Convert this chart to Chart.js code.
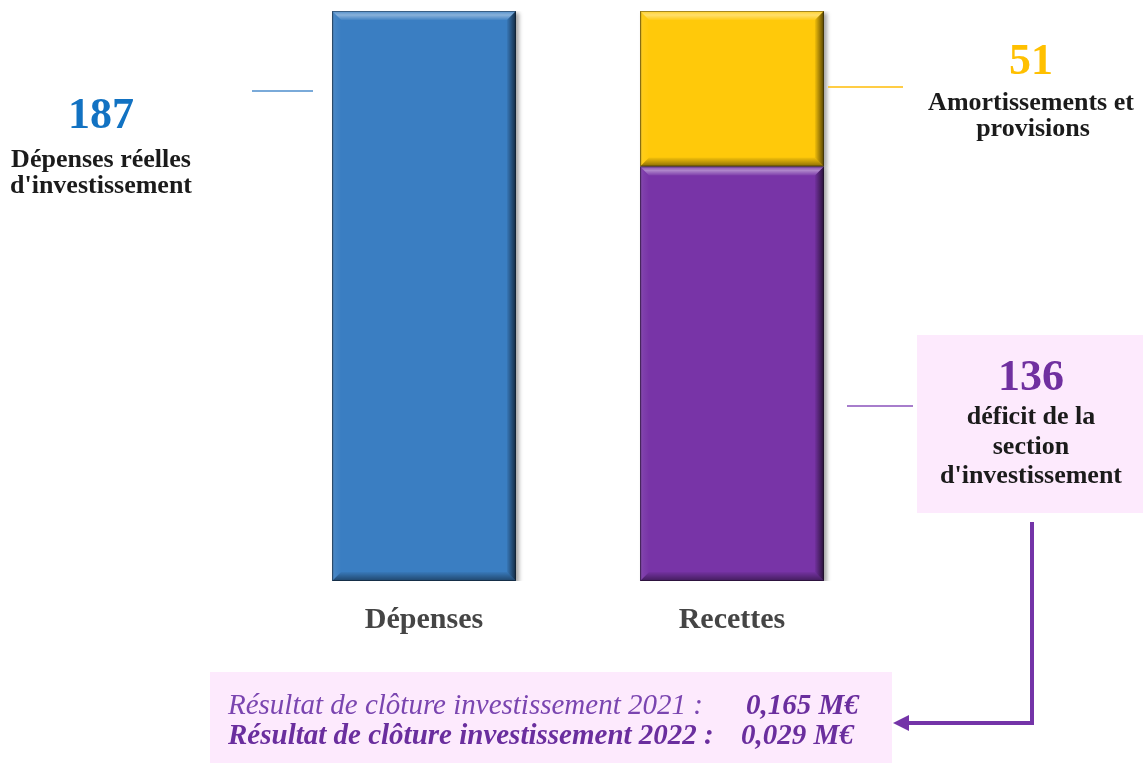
<!DOCTYPE html>
<html lang="fr">
<head>
<meta charset="utf-8">
<title>Section d'investissement</title>
<script src="https://cdn.jsdelivr.net/npm/chart.js@4.4.1/dist/chart.umd.min.js"></script>
<style>
  html, body { margin: 0; padding: 0; background: #fff; }
  #wrap { width: 1147px; height: 765px; }
</style>
</head>
<body>
<div id="wrap"><canvas id="invest-chart" width="1147" height="765"></canvas></div>
<script>
// montants en milliers d'euros
const categories = ['Dépenses', 'Recettes'];
const depensesReelles = [187, null];
const deficitSection = [null, 136];
const amortissements = [null, 51];

const resultatLibelles = ['Résultat de clôture investissement 2021 :', 'Résultat de clôture investissement 2022 :'];
const resultatMontants = ['0,165 M€', '0,029 M€'];

const SERIF = '"Liberation Serif", "Times New Roman", serif';
const BLEU = '#3A7EC2';
const JAUNE = '#FFC90A';
const VIOLET = '#7834A7';

const totaux = categories.map((_, i) =>
  (depensesReelles[i] || 0) + (deficitSection[i] || 0) + (amortissements[i] || 0));

function poly(ctx, pts, fill) {
  ctx.beginPath();
  ctx.moveTo(pts[0][0], pts[0][1]);
  for (let k = 1; k < pts.length; k++) ctx.lineTo(pts[k][0], pts[k][1]);
  ctx.closePath();
  ctx.fillStyle = fill;
  ctx.fill();
}

// relief biseauté sur chaque rectangle
function drawBevel(ctx, l, t, r, b, s) {
  let g = ctx.createLinearGradient(0, t, 0, t + s);
  g.addColorStop(0, 'rgba(255,255,255,0.12)');
  g.addColorStop(0.45, 'rgba(255,255,255,0.40)');
  g.addColorStop(1, 'rgba(255,255,255,0.05)');
  poly(ctx, [[l, t], [r, t], [r - s, t + s], [l + s, t + s]], g);

  g = ctx.createLinearGradient(r - s, 0, r, 0);
  g.addColorStop(0, 'rgba(0,0,0,0.05)');
  g.addColorStop(1, 'rgba(0,0,0,0.66)');
  poly(ctx, [[r, t], [r, b], [r - s, b - s], [r - s, t + s]], g);

  g = ctx.createLinearGradient(0, b - s, 0, b);
  g.addColorStop(0, 'rgba(0,0,0,0.04)');
  g.addColorStop(1, 'rgba(0,0,0,0.45)');
  poly(ctx, [[l, b], [r, b], [r - s, b - s], [l + s, b - s]], g);

  g = ctx.createLinearGradient(l, 0, l + s, 0);
  g.addColorStop(0, 'rgba(0,0,0,0.30)');
  g.addColorStop(0.3, 'rgba(255,255,255,0.06)');
  g.addColorStop(1, 'rgba(255,255,255,0)');
  poly(ctx, [[l, t], [l + s, t + s], [l + s, b - s], [l, b]], g);

  ctx.strokeStyle = 'rgba(0,0,0,0.35)';
  ctx.lineWidth = 1;
  ctx.strokeRect(l + 0.5, t + 0.5, r - l - 1, b - t - 1);
}

const bevelPlugin = {
  id: 'bevel',
  beforeDatasetsDraw(chart) {
    const ctx = chart.ctx;
    ctx.save();
    ctx.shadowColor = 'rgba(0,0,0,0.35)';
    ctx.shadowBlur = 4;
    ctx.shadowOffsetX = 3;
    ctx.shadowOffsetY = 2;
  },
  afterDatasetsDraw(chart) {
    const ctx = chart.ctx;
    ctx.restore();
    chart.data.datasets.forEach((ds, i) => {
      chart.getDatasetMeta(i).data.forEach((bar, j) => {
        if (ds.data[j] == null) return;
        const p = bar.getProps(['x', 'y', 'base', 'width'], true);
        const l = p.x - p.width / 2, r = p.x + p.width / 2;
        const t = Math.min(p.y, p.base), b = Math.max(p.y, p.base);
        ctx.save();
        drawBevel(ctx, l, t, r, b, 9);
        ctx.restore();
      });
    });
  }
};

function texte(ctx, str, x, y, font, color, align) {
  ctx.font = font;
  ctx.fillStyle = color;
  ctx.textAlign = align || 'center';
  ctx.textBaseline = 'alphabetic';
  ctx.fillText(str, x, y);
}

function trait(ctx, x1, x2, y, color) {
  ctx.beginPath();
  ctx.moveTo(x1, y);
  ctx.lineTo(x2, y);
  ctx.strokeStyle = color;
  ctx.lineWidth = 2;
  ctx.stroke();
}

// étiquettes, encadrés et flèche
const annotationsPlugin = {
  id: 'annotations',
  afterDraw(chart) {
    const ctx = chart.ctx;
    const gros = 'bold 44px ' + SERIF;
    const moyen = 'bold 26px ' + SERIF;
    ctx.save();

    // dépenses
    trait(ctx, 252, 313, 91, '#7AAAD9');
    texte(ctx, String(depensesReelles[0]), 101, 128, gros, '#1272C2');
    texte(ctx, 'Dépenses réelles', 101, 167, moyen, '#1b1b1b');
    texte(ctx, "d'investissement", 101, 193, moyen, '#1b1b1b');

    // amortissements
    trait(ctx, 828, 903, 87, '#FFCD45');
    texte(ctx, String(amortissements[1]), 1031, 74, gros, '#FFC000');
    texte(ctx, 'Amortissements et', 1031, 110, moyen, '#1b1b1b');
    texte(ctx, 'provisions', 1033, 136, moyen, '#1b1b1b');

    // déficit
    ctx.fillStyle = '#FDEAFD';
    ctx.fillRect(917, 335, 226, 178);
    trait(ctx, 847, 913, 406, '#A77DCC');
    texte(ctx, String(deficitSection[1]), 1031, 390, gros, '#7030A0');
    texte(ctx, 'déficit de la', 1031, 424, moyen, '#1b1b1b');
    texte(ctx, 'section', 1031, 454, moyen, '#1b1b1b');
    texte(ctx, "d'investissement", 1031, 483, moyen, '#1b1b1b');

    // flèche vers le résultat de clôture
    ctx.beginPath();
    ctx.moveTo(1032, 522);
    ctx.lineTo(1032, 723);
    ctx.lineTo(906, 723);
    ctx.strokeStyle = '#7434A8';
    ctx.lineWidth = 4;
    ctx.lineJoin = 'miter';
    ctx.stroke();
    ctx.beginPath();
    ctx.moveTo(893, 723);
    ctx.lineTo(909, 715);
    ctx.lineTo(909, 731);
    ctx.closePath();
    ctx.fillStyle = '#7434A8';
    ctx.fill();

    // résultat de clôture
    ctx.fillStyle = '#FDEAFD';
    ctx.fillRect(210, 672, 682, 91);
    texte(ctx, resultatLibelles[0], 228, 714, 'italic 29px ' + SERIF, '#7A45B0', 'left');
    texte(ctx, resultatMontants[0], 746, 714, 'italic bold 29px ' + SERIF, '#6A2E9E', 'left');
    texte(ctx, resultatLibelles[1], 228, 744, 'italic bold 29px ' + SERIF, '#6A2E9E', 'left');
    texte(ctx, resultatMontants[1], 741, 744, 'italic bold 29px ' + SERIF, '#6A2E9E', 'left');

    ctx.restore();
  }
};

new Chart(document.getElementById('invest-chart'), {
  type: 'bar',
  data: {
    labels: categories,
    datasets: [
      { label: "Dépenses réelles d'investissement", data: depensesReelles, backgroundColor: BLEU },
      { label: "Déficit de la section d'investissement", data: deficitSection, backgroundColor: VIOLET },
      { label: 'Amortissements et provisions', data: amortissements, backgroundColor: JAUNE }
    ]
  },
  options: {
    responsive: false,
    animation: false,
    events: [],
    layout: { padding: { left: 270, right: 261, top: 11, bottom: 106 } },
    datasets: {
      bar: { categoryPercentage: 1, barPercentage: 0.597, borderWidth: 0 }
    },
    plugins: {
      legend: { display: false },
      tooltip: { enabled: false }
    },
    scales: {
      x: {
        stacked: true,
        grid: { display: false, drawTicks: false },
        border: { display: false },
        ticks: { color: '#454545', padding: 21, font: { family: SERIF, size: 30, weight: 'bold' } }
      },
      y: {
        stacked: true,
        display: false,
        min: 0,
        max: Math.max(...totaux)
      }
    }
  },
  plugins: [bevelPlugin, annotationsPlugin]
});
</script>
</body>
</html>
